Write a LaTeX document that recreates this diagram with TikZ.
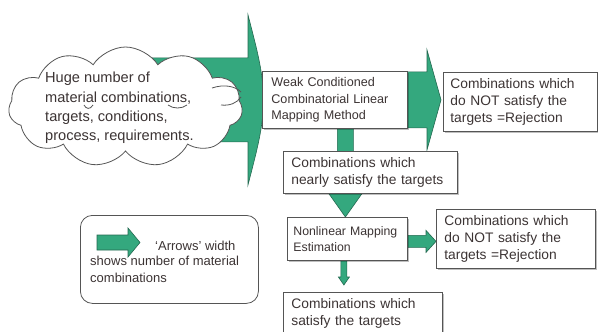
\documentclass[tikz,border=0pt]{standalone}
\usepackage{fontspec}
\setmainfont{Liberation Sans}
\usetikzlibrary{calc,shapes.symbols,shadows,backgrounds}

\definecolor{arrowgreen}{RGB}{52,168,126}
\definecolor{arrowedge}{RGB}{35,105,80}
\definecolor{boxline}{RGB}{85,85,85}
\definecolor{txt}{RGB}{60,52,52}

% Block arrow pointing right: start point, tip, shaft half-width, head half-width, head length
\newcommand{\rightblock}[5]{%
  \filldraw[blockarrow] let \p1=(#1), \p2=(#2) in
    (\x1,\y2+#3) -- (\x2-#5,\y2+#3) -- (\x2-#5,\y2+#4) -- (\x2,\y2)
    -- (\x2-#5,\y2-#4) -- (\x2-#5,\y2-#3) -- (\x1,\y2-#3) -- cycle;}
% Block arrow pointing down: start point, tip, shaft half-width, head half-width, head length
\newcommand{\downblock}[5]{%
  \filldraw[blockarrow] let \p1=(#1), \p2=(#2) in
    (\x2+#3,\y1) -- (\x2+#3,\y2+#5) -- (\x2+#4,\y2+#5) -- (\x2,\y2)
    -- (\x2-#4,\y2+#5) -- (\x2-#3,\y2+#5) -- (\x2-#3,\y1) -- cycle;}

\newcommand{\fsbox}{\fontsize{13.8}{17}\selectfont}
\newcommand{\fssmall}{\fontsize{12.6}{16.5}\selectfont}
\newcommand{\fsnarrow}{\fontsize{12.3}{16.5}\selectfont}
\newcommand{\fscloud}{\fontsize{14.6}{19.3}\selectfont}
\newcommand{\fslegend}{\fontsize{13}{16.5}\selectfont}

\begin{document}
\begin{tikzpicture}[x=1pt,y=-1pt,
  every node/.append style={execute at begin node={\hyphenpenalty=10000}},
  blockarrow/.style={fill=arrowgreen,draw=arrowedge,line width=0.6pt,line join=miter},
  box/.style={draw=boxline,fill=white,line width=0.8pt,anchor=north west,
    inner ysep=0pt,align=left,text=txt,
    drop shadow={shadow xshift=1.2pt,shadow yshift=-1.2pt,opacity=0.25,fill=black}},
  cloudline/.style={draw=boxline,line width=0.8pt}
]
\useasboundingbox (0,0) rectangle (598,332);

% cloud of inputs
\node[cloud,cloud puffs=11,cloud puff arc=115,cloud ignores aspect,
  minimum width=234pt,minimum height=120pt,inner sep=0pt,
  draw=boxline,line width=0.8pt,fill=white] (cloud) at (125.5,107) {};
\node[anchor=west,align=left,text=txt,font=\fscloud,inner sep=0pt] (cloudtext) at (45,108)
  {Huge number of\\material combinations,\\targets, conditions,\\process, requirements.};
\draw[cloudline] (212,88) .. controls (224,84) and (235,86) .. (241,92);
\draw[cloudline] (221,105) .. controls (230,106) and (237,103) .. (241,97);
\draw[cloudline] (84,105) .. controls (86,109) and (90,110) .. (93,105);
\draw[cloudline] (168,105) .. controls (173,109) and (182,109) .. (187,105);

% process boxes
\node[box,font=\fssmall,inner xsep=9pt,text width=127pt,minimum height=57pt] (weak) at (262,71)
  {Weak Conditioned\\Combinatorial Linear\\Mapping Method};
\node[box,font=\fsbox,inner xsep=7pt,text width=140pt,minimum height=59pt] (rej1) at (443,72)
  {Combinations which\\do NOT satisfy the\\targets =Rejection};
\node[box,font=\fsbox,inner xsep=8pt,text width=158pt,minimum height=42pt] (nearly) at (283,151)
  {Combinations which\\nearly satisfy the targets};
\node[box,font=\fsnarrow,inner xsep=6pt,text width=108pt,minimum height=43pt] (nonlin) at (287,217)
  {Nonlinear Mapping\\Estimation};
\node[box,font=\fsbox,inner xsep=8pt,text width=143pt,minimum height=59pt] (rej2) at (436,209)
  {Combinations which\\do NOT satisfy the\\targets =Rejection};
\node[box,font=\fsbox,inner xsep=8pt,text width=143pt,minimum height=42pt] (bottom) at (283,292)
  {Combinations which\\satisfy the targets};

% legend
\node[draw=boxline,line width=0.8pt,rounded corners=12pt,fill=white,anchor=north west,
  minimum width=178pt,minimum height=88pt,inner sep=0pt] (legend) at (80,215) {};
\coordinate (legstart) at (97,242.5);
\coordinate (legtip) at (140,242.5);
\rightblock{legstart}{legtip}{7.5}{14.5}{12}
\node[anchor=west,text=txt,font=\fslegend,inner sep=0pt] (legtop) at (155,246) {‘Arrows’ width};
\node[anchor=north west,align=left,text=txt,font=\fslegend,inner sep=0pt] (legbody) at (90,256)
  {shows number of material\\combinations};

% flow arrows, behind everything
\begin{pgfonlayer}{background}
\fill[white] (0,0) rectangle (598,332);
\filldraw[blockarrow] let \p1=(cloud.center), \p2=($(weak.west)+(1,0)$) in
  (\x1,\y2+42) -- (\x2-15,\y2+42) -- (\x2-15,\y2+85)
  .. controls (\x2-6,\y2+50) and (\x2+1,\y2+25) .. (\x2,\y2)
  .. controls (\x2+1,\y2-25) and (\x2-6,\y2-50) .. (\x2-15,\y2-85)
  -- (\x2-15,\y2-42) -- (\x1,\y2-42) -- cycle;
\rightblock{$(weak.east)+(-4,0)$}{$(weak.east -| rej1.west)+(-2,0)$}{28}{50}{14}
\downblock{$(weak.south)+(0,-4)$}{$(nonlin.north)+(-2,0)$}{8}{17}{24}
\rightblock{$(nonlin.east)+(-4,2.5)$}{$(rej2.west)+(0,2.5)$}{6}{11}{10}
\downblock{$(nonlin.south)+(0,-2)$}{$(bottom.north -| nonlin.south)+(-3.5,-7)$}{3}{5.5}{8}
\end{pgfonlayer}
\end{tikzpicture}
\end{document}
